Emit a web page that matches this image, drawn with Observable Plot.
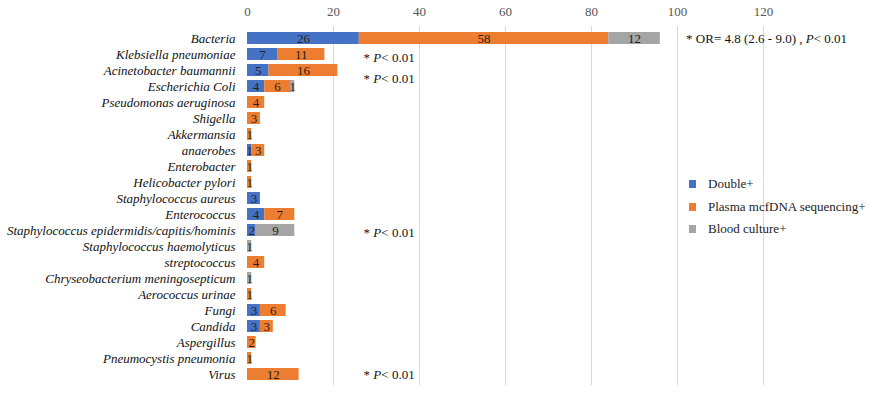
<!DOCTYPE html>
<html>
<head>
<meta charset="utf-8">
<script src="https://cdn.jsdelivr.net/npm/d3@7"></script>
<script src="https://cdn.jsdelivr.net/npm/@observablehq/plot@0.6"></script>
<style>
  html, body { margin: 0; padding: 0; background: #fff; }
  #wrap { position: relative; width: 877px; height: 396px; font-family: "Liberation Serif", "DejaVu Serif", serif; }
  #chart svg { display: block; }
  #chart svg, #chart svg text { font-family: "Liberation Serif", "DejaVu Serif", serif !important; }
  #legend { position: absolute; left: 689px; top: 173px; font-size: 13px; color: #222; }
  #legend div { display: flex; align-items: center; height: 22.5px; }
  #legend span.sw { display: inline-block; width: 7px; height: 8px; margin-right: 12px; }
</style>
</head>
<body>
<div id="wrap">
  <div id="chart"></div>
  <div id="legend"></div>
</div>
<script>
const categories = [
  "Bacteria", "Klebsiella pneumoniae", "Acinetobacter baumannii", "Escherichia Coli",
  "Pseudomonas aeruginosa", "Shigella", "Akkermansia", "anaerobes", "Enterobacter",
  "Helicobacter pylori", "Staphylococcus aureus", "Enterococcus",
  "Staphylococcus epidermidis/capitis/hominis", "Staphylococcus haemolyticus",
  "streptococcus", "Chryseobacterium meningosepticum", "Aerococcus urinae",
  "Fungi", "Candida", "Aspergillus", "Pneumocystis pneumonia", "Virus"
];
const seriesNames = ["Double+", "Plasma mcfDNA sequencing+", "Blood culture+"];
const seriesColors = ["#4472C4", "#ED7D31", "#A5A5A5"];
const doublePos = [26, 7, 5, 4, 0, 0, 0, 1, 0, 0, 3, 4, 2, 0, 0, 0, 0, 3, 3, 0, 0, 0];
const plasmaPos = [58, 11, 16, 6, 4, 3, 1, 3, 1, 1, 0, 7, 0, 0, 4, 0, 1, 6, 3, 2, 1, 12];
const culturePos = [12, 0, 0, 1, 0, 0, 0, 0, 0, 0, 0, 0, 9, 1, 0, 1, 0, 0, 0, 0, 0, 0];
const xTicks = [0, 20, 40, 60, 80, 100, 120];
const annotations = [
  {cat: "Klebsiella pneumoniae", text: "* P< 0.01", dy: 3},
  {cat: "Acinetobacter baumannii", text: "* P< 0.01", dy: 8},
  {cat: "Staphylococcus epidermidis/capitis/hominis", text: "* P< 0.01", dy: 2},
  {cat: "Virus", text: "* P< 0.01", dy: 0}
];
const orNote = {cat: "Bacteria", text: "* OR= 4.8 (2.6 - 9.0) , P< 0.01"};

const seriesValues = [doublePos, plasmaPos, culturePos];
const rows = [];
categories.forEach((c, i) => {
  seriesValues.forEach((vals, s) => {
    rows.push({cat: c, series: seriesNames[s], value: vals[i]});
  });
});
const nonZero = rows.filter(d => d.value > 0);

const font = "Liberation Serif, DejaVu Serif, serif";

const chart = Plot.plot({
  width: 877,
  height: 396,
  marginLeft: 247,
  marginRight: 114,
  marginTop: 26,
  marginBottom: 11,
  style: {fontFamily: font, fontSize: "13px", color: "#222", background: "#fff", overflow: "visible"},
  x: {domain: [0, 120], axis: null},
  y: {domain: categories, axis: null, padding: 0},
  color: {domain: seriesNames, range: seriesColors},
  marks: [
    Plot.gridX(xTicks.filter(t => t > 0), {stroke: "#d9d9d9", strokeOpacity: 1, strokeWidth: 1}),
    Plot.axisX(xTicks, {anchor: "top", tickSize: 0, tickPadding: 11, fontSize: 13, fill: "#555", label: null}),
    Plot.axisY({tickSize: 0, tickPadding: 12, fontSize: 13, fontStyle: "italic", fill: "#111", label: null}),
    Plot.barX(rows, Plot.stackX({x: "value", y: "cat", fill: "series", order: seriesNames, insetTop: 2, insetBottom: 2})),
    Plot.text(nonZero, Plot.stackX({x: "value", y: "cat", z: "series", order: seriesNames, text: d => String(d.value), fill: "#2a1f1a", fontSize: 13})),
    ...annotations.map(a => Plot.text([a], {x: 27, y: "cat", dy: a.dy, text: "text", textAnchor: "start", fontSize: 13, fill: "#111", className: "pnote"})),
    Plot.text([orNote], {x: 102, y: "cat", text: "text", textAnchor: "start", fontSize: 13, fill: "#111", className: "pnote"})
  ]
});
document.getElementById("chart").appendChild(chart);

// italic P in the significance notes
chart.querySelectorAll(".pnote text").forEach(t => {
  const s = t.textContent;
  const i = s.lastIndexOf("P<");
  t.textContent = "";
  const a = document.createElementNS("http://www.w3.org/2000/svg", "tspan");
  a.textContent = s.slice(0, i);
  const p = document.createElementNS("http://www.w3.org/2000/svg", "tspan");
  p.textContent = "P";
  p.setAttribute("font-style", "italic");
  const b = document.createElementNS("http://www.w3.org/2000/svg", "tspan");
  b.textContent = s.slice(i + 1);
  t.append(a, p, b);
});

const legend = document.getElementById("legend");
seriesNames.forEach((name, i) => {
  const row = document.createElement("div");
  const sw = document.createElement("span");
  sw.className = "sw";
  sw.style.background = seriesColors[i];
  row.appendChild(sw);
  row.appendChild(document.createTextNode(name));
  legend.appendChild(row);
});
</script>
</body>
</html>
